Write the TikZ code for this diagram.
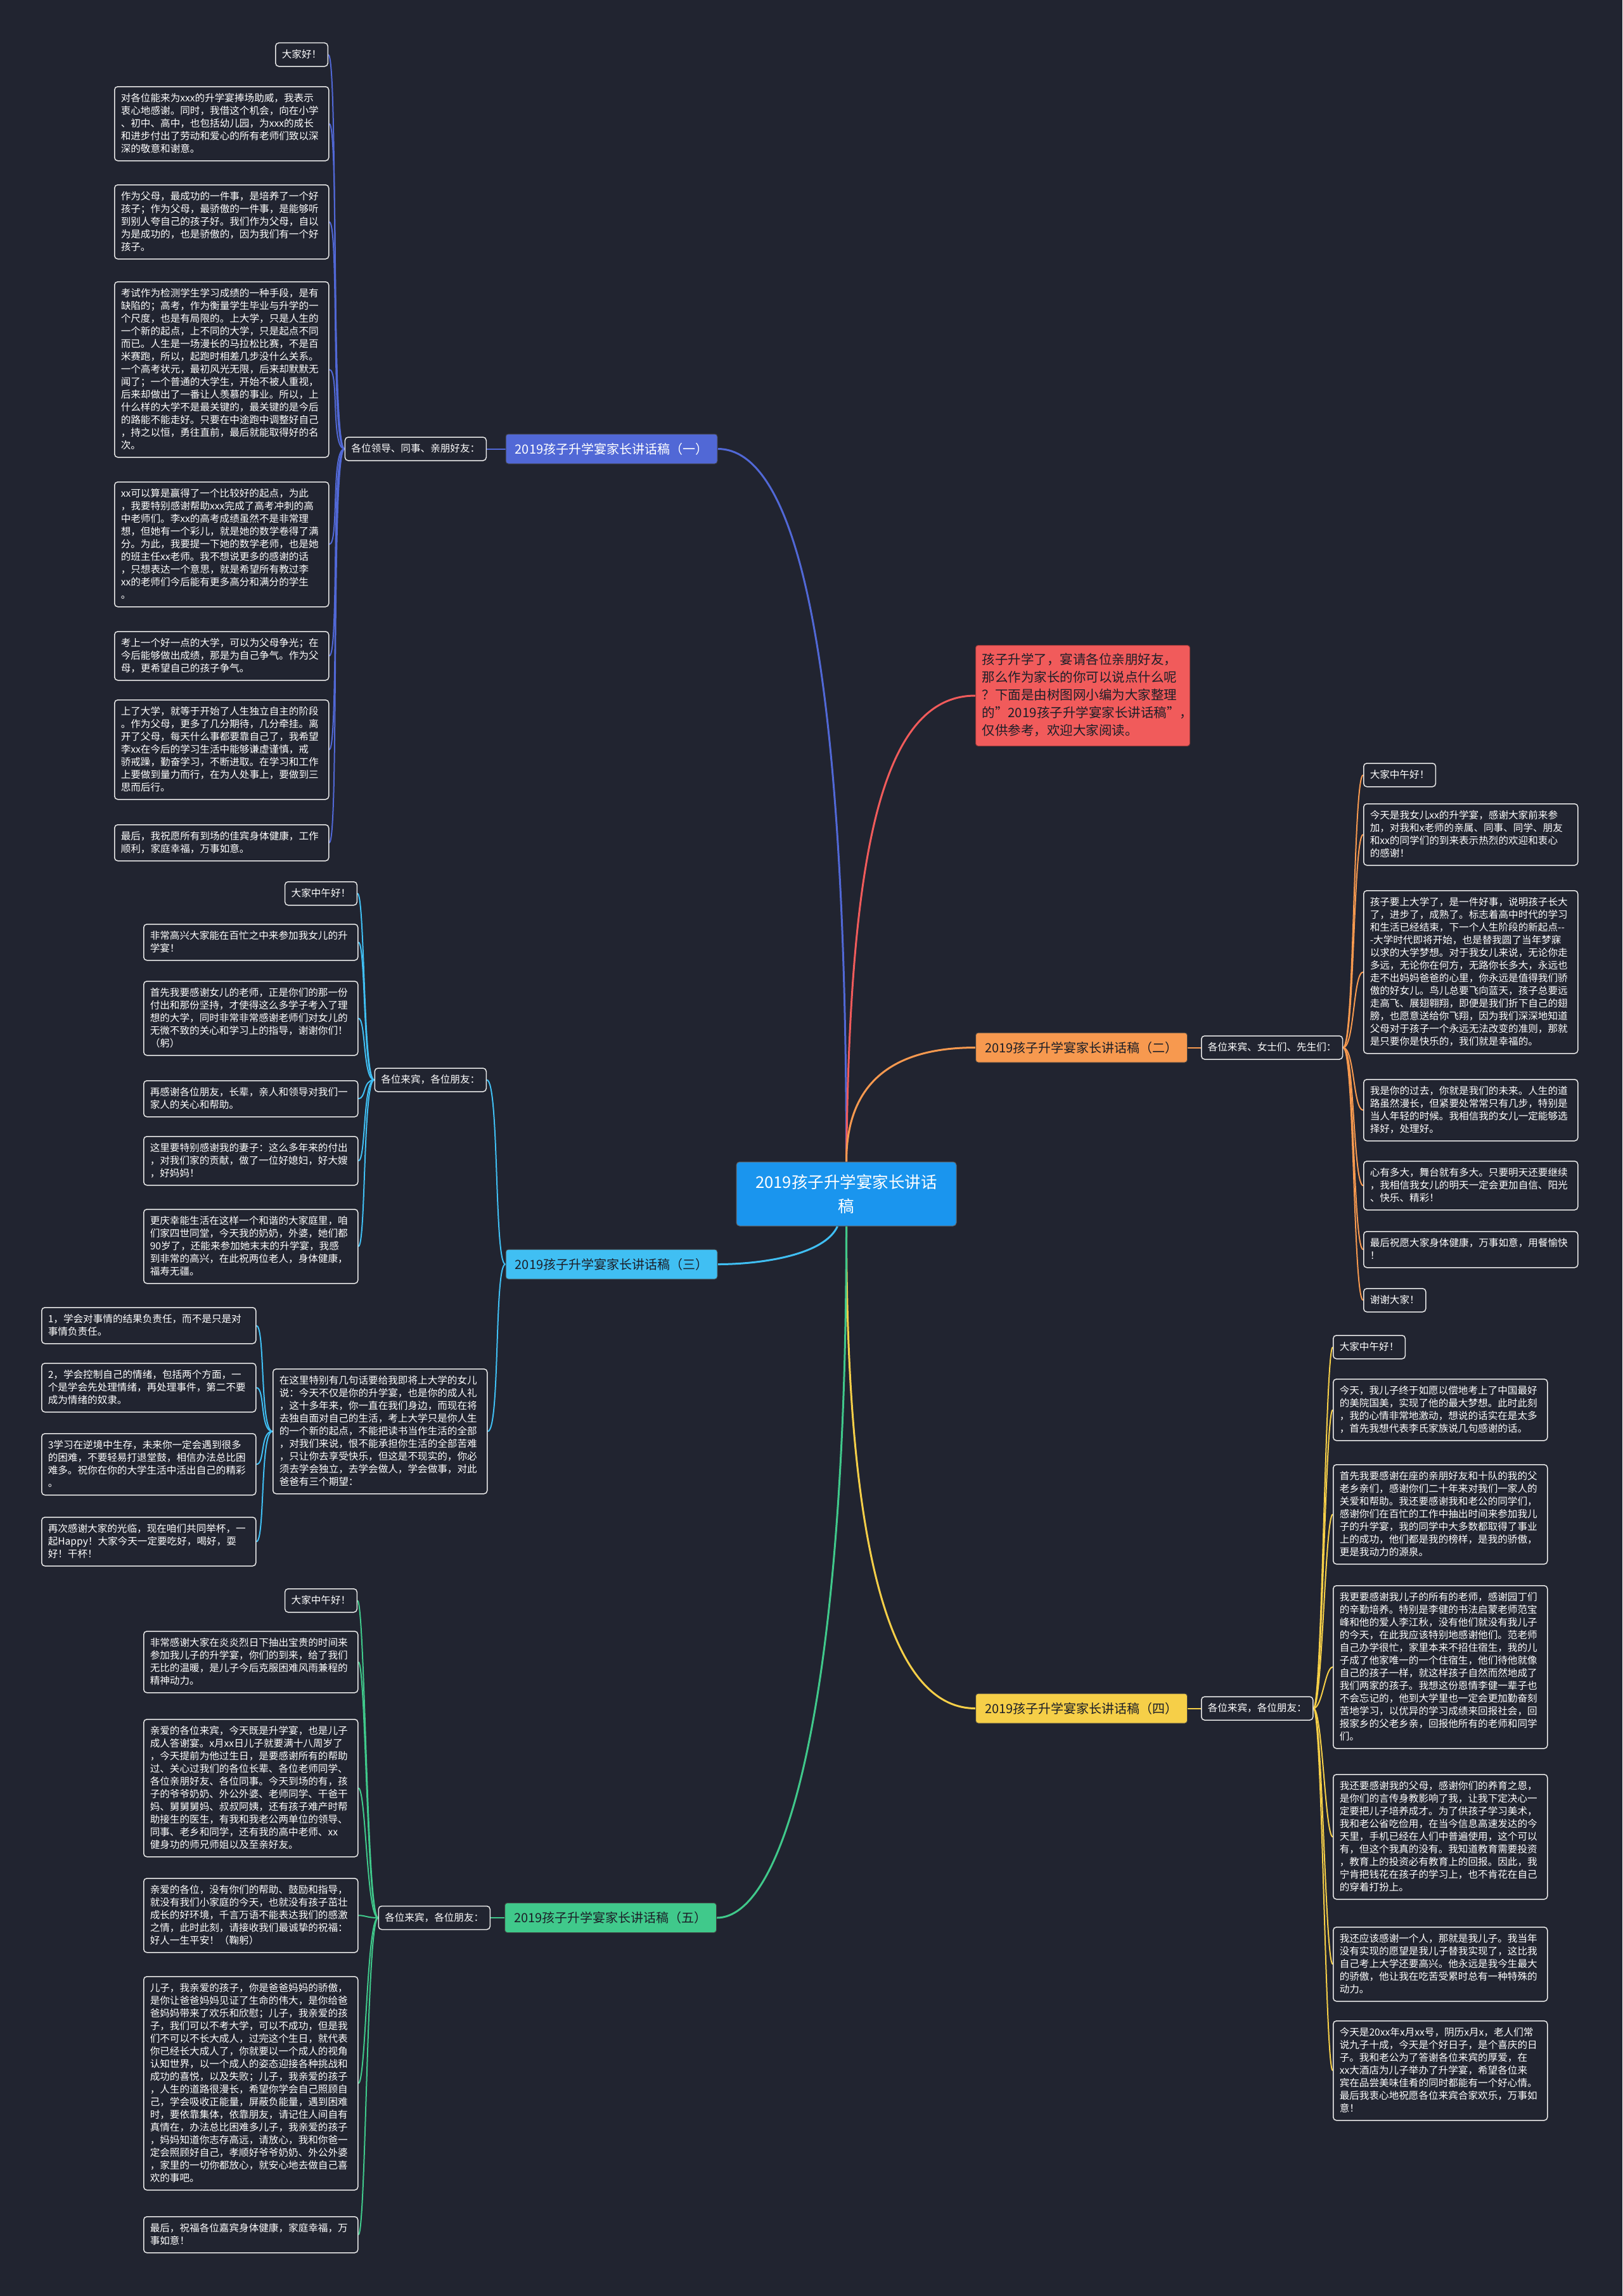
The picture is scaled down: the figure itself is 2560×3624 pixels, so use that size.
\documentclass[tikz,border=0pt]{standalone}
\usepackage{fontspec}
\usetikzlibrary{backgrounds}
\setmainfont{Noto Sans CJK SC}
\definecolor{bg}{HTML}{212430}
\definecolor{leafborder}{HTML}{E8E8E8}
\definecolor{cone}{HTML}{5168D6}
\definecolor{ctwo}{HTML}{F7994F}
\definecolor{cthree}{HTML}{40BFF3}
\definecolor{cfour}{HTML}{F6CF48}
\definecolor{cfive}{HTML}{40C98B}
\definecolor{cred}{HTML}{F15B5B}
\definecolor{ccenter}{HTML}{1A95EE}
\definecolor{dtext}{HTML}{1C1F28}
\newcommand\leaffont{\fontsize{15.6pt}{20pt}\selectfont}
\newcommand\brfont{\fontsize{20pt}{24pt}\selectfont}
\newcommand\redfont{\fontsize{20.5pt}{28pt}\selectfont}
\newcommand\cenfont{\fontsize{25.5pt}{38pt}\selectfont}
\tikzset{
  box/.style={draw=leafborder, line width=1.5pt, rounded corners=5pt, fill=bg, text=white,
    font=\leaffont, inner xsep=10pt, inner ysep=8.5pt,
    execute at begin node={\rule{0pt}{15pt}}, execute at end node={\rule[-5pt]{0pt}{5pt}}},
  leaf/.style={box, align=left, text width=318pt},
  small/.style={box},
  br/.style={draw=black!75, line width=1pt, rounded corners=4pt, minimum width=334pt, minimum height=47pt, inner sep=0pt, font=\brfont},
  mainline/.style={line width=3pt},
  subline/.style={line width=2pt},
}
\begin{document}
\begin{tikzpicture}[x=1pt,y=-1pt]
\begin{scope}[on background layer]
\fill[bg] (0,0) rectangle (2560,3624);
\end{scope}
\useasboundingbox (0,0) rectangle (2560,3624);

% center
\node[fill=ccenter, draw=black!60, line width=1pt, text=white, rounded corners=5pt, text width=315pt, align=center, font=\cenfont,
  minimum height=101pt, inner xsep=16pt, inner ysep=0pt] (cn) at (1335.5,1884.5) {2019孩子升学宴家长讲话\\稿};

% red intro
\node[fill=cred, draw=cred!60!black, line width=1pt, rounded corners=4pt, text=dtext, align=left, text width=318pt,
  font=\redfont, inner xsep=10pt, inner ysep=9.5pt, anchor=north west,
  execute at begin node={\rule{0pt}{20pt}}, execute at end node={\rule[-8pt]{0pt}{8pt}}] (rd) at (1539,1018)
  {孩子升学了，宴请各位亲朋好友，\\那么作为家长的你可以说点什么呢\\？下面是由树图网小编为大家整理\\的"2019孩子升学宴家长讲话稿"，\\仅供参考，欢迎大家阅读。};

% branch nodes
\node[br, fill=cone, text=white] (b1) at (965,708.5) {2019孩子升学宴家长讲话稿（一）};
\node[br, fill=ctwo, text=dtext] (b2) at (1706.5,1653.5) {2019孩子升学宴家长讲话稿（二）};
\node[br, fill=cthree, text=dtext] (b3) at (965,1995.5) {2019孩子升学宴家长讲话稿（三）};
\node[br, fill=cfour, text=dtext] (b4) at (1706.5,2696.5) {2019孩子升学宴家长讲话稿（四）};
\node[br, fill=cfive, text=dtext] (b5) at (963.5,3027) {2019孩子升学宴家长讲话稿（五）};

% labels
\node[small, anchor=east] (la) at (768,708.5) {各位领导、同事、亲朋好友：};
\node[small, anchor=west] (lf) at (1895,1653.5) {各位来宾、女士们、先生们：};
\node[small, anchor=east] (lc) at (768,1704.5) {各位来宾，各位朋友：};
\node[small, anchor=west] (lg) at (1895,2696.5) {各位来宾，各位朋友：};
\node[small, anchor=east] (le) at (774,3027) {各位来宾，各位朋友：};

% branch 1 leaves
\node[small, anchor=north east] (a0) at (518,67) {大家好！};
\node[leaf, anchor=north west] (a1) at (180,136) {对各位能来为xxx的升学宴捧场助威，我表示\\衷心地感谢。同时，我借这个机会，向在小学\\、初中、高中，也包括幼儿园，为xxx的成长\\和进步付出了劳动和爱心的所有老师们致以深\\深的敬意和谢意。};
\node[leaf, anchor=north west] (a2) at (180,291) {作为父母，最成功的一件事，是培养了一个好\\孩子；作为父母，最骄傲的一件事，是能够听\\到别人夸自己的孩子好。我们作为父母，自以\\为是成功的，也是骄傲的，因为我们有一个好\\孩子。};
\node[leaf, anchor=north west] (a3) at (180,444) {考试作为检测学生学习成绩的一种手段，是有\\缺陷的；高考，作为衡量学生毕业与升学的一\\个尺度，也是有局限的。上大学，只是人生的\\一个新的起点，上不同的大学，只是起点不同\\而已。人生是一场漫长的马拉松比赛，不是百\\米赛跑，所以，起跑时相差几步没什么关系。\\一个高考状元，最初风光无限，后来却默默无\\闻了；一个普通的大学生，开始不被人重视，\\后来却做出了一番让人羡慕的事业。所以，上\\什么样的大学不是最关键的，最关键的是今后\\的路能不能走好。只要在中途跑中调整好自己\\，持之以恒，勇往直前，最后就能取得好的名\\次。};
\node[leaf, anchor=north west] (a4) at (180,760) {xx可以算是赢得了一个比较好的起点，为此\\，我要特别感谢帮助xxx完成了高考冲刺的高\\中老师们。李xx的高考成绩虽然不是非常理\\想，但她有一个彩儿，就是她的数学卷得了满\\分。为此，我要提一下她的数学老师，也是她\\的班主任xx老师。我不想说更多的感谢的话\\，只想表达一个意思，就是希望所有教过李\\xx的老师们今后能有更多高分和满分的学生\\。};
\node[leaf, anchor=north west] (a5) at (180,996) {考上一个好一点的大学，可以为父母争光；在\\今后能够做出成绩，那是为自己争气。作为父\\母，更希望自己的孩子争气。};
\node[leaf, anchor=north west] (a6) at (180,1104) {上了大学，就等于开始了人生独立自主的阶段\\。作为父母，更多了几分期待，几分牵挂。离\\开了父母，每天什么事都要靠自己了，我希望\\李xx在今后的学习生活中能够谦虚谨慎，戒\\骄戒躁，勤奋学习，不断进取。在学习和工作\\上要做到量力而行，在为人处事上，要做到三\\思而后行。};
\node[leaf, anchor=north west] (a7) at (180,1301) {最后，我祝愿所有到场的佳宾身体健康，工作\\顺利，家庭幸福，万事如意。};

% branch 3 leaves
\node[small, anchor=north east] (c0) at (564,1391) {大家中午好！};
\node[leaf, anchor=north west] (c1) at (226,1458) {非常高兴大家能在百忙之中来参加我女儿的升\\学宴！};
\node[leaf, anchor=north west] (c2) at (226,1548) {首先我要感谢女儿的老师，正是你们的那一份\\付出和那份坚持，才使得这么多学子考入了理\\想的大学，同时非常非常感谢老师们对女儿的\\无微不致的关心和学习上的指导，谢谢你们！\\（躬）};
\node[leaf, anchor=north west] (c3) at (226,1705) {再感谢各位朋友，长辈，亲人和领导对我们一\\家人的关心和帮助。};
\node[leaf, anchor=north west] (c4) at (226,1793) {这里要特别感谢我的妻子：这么多年来的付出\\，对我们家的贡献，做了一位好媳妇，好大嫂\\，好妈妈！};
\node[leaf, anchor=north west] (c5) at (226,1908) {更庆幸能生活在这样一个和谐的大家庭里，咱\\们家四世同堂，今天我的奶奶，外婆，她们都\\90岁了，还能来参加她末末的升学宴，我感\\到非常的高兴，在此祝两位老人，身体健康，\\福寿无疆。};
\node[leaf, anchor=north west] (cb) at (430,2160) {在这里特别有几句话要给我即将上大学的女儿\\说：今天不仅是你的升学宴，也是你的成人礼\\，这十多年来，你一直在我们身边，而现在将\\去独自面对自己的生活，考上大学只是你人生\\的一个新的起点，不能把读书当作生活的全部\\，对我们来说，恨不能承担你生活的全部苦难\\，只让你去享受快乐，但这是不现实的，你必\\须去学会独立，去学会做人，学会做事，对此\\爸爸有三个期望：};
\node[leaf, anchor=north west] (d1) at (65,2063) {1，学会对事情的结果负责任，而不是只是对\\事情负责任。};
\node[leaf, anchor=north west] (d2) at (65,2151) {2，学会控制自己的情绪，包括两个方面，一\\个是学会先处理情绪，再处理事件，第二不要\\成为情绪的奴隶。};
\node[leaf, anchor=north west] (d3) at (65,2262) {3学习在逆境中生存，未来你一定会遇到很多\\的困难，不要轻易打退堂鼓，相信办法总比困\\难多。祝你在你的大学生活中活出自己的精彩\\。};
\node[leaf, anchor=north west] (d4) at (65,2394) {再次感谢大家的光临，现在咱们共同举杯，一\\起Happy！大家今天一定要吃好，喝好，耍\\好！干杯！};

% branch 5 leaves
\node[small, anchor=north east] (e0) at (564,2507) {大家中午好！};
\node[leaf, anchor=north west] (e1) at (226,2574) {非常感谢大家在炎炎烈日下抽出宝贵的时间来\\参加我儿子的升学宴，你们的到来，给了我们\\无比的温暖，是儿子今后克服困难风雨兼程的\\精神动力。};
\node[leaf, anchor=north west] (e2) at (226,2713) {亲爱的各位来宾，今天既是升学宴，也是儿子\\成人答谢宴。x月xx日儿子就要满十八周岁了\\，今天提前为他过生日，是要感谢所有的帮助\\过、关心过我们的各位长辈、各位老师同学、\\各位亲朋好友、各位同事。今天到场的有，孩\\子的爷爷奶奶、外公外婆、老师同学、干爸干\\妈、舅舅舅妈、叔叔阿姨，还有孩子难产时帮\\助接生的医生，有我和我老公两单位的领导、\\同事、老乡和同学，还有我的高中老师、xx\\健身功的师兄师姐以及至亲好友。};
\node[leaf, anchor=north west] (e3) at (226,2964) {亲爱的各位，没有你们的帮助、鼓励和指导，\\就没有我们小家庭的今天，也就没有孩子茁壮\\成长的好环境，千言万语不能表达我们的感激\\之情，此时此刻，请接收我们最诚挚的祝福：\\好人一生平安！（鞠躬）};
\node[leaf, anchor=north west] (e4) at (226,3119) {儿子，我亲爱的孩子，你是爸爸妈妈的骄傲，\\是你让爸爸妈妈见证了生命的伟大，是你给爸\\爸妈妈带来了欢乐和欣慰；儿子，我亲爱的孩\\子，我们可以不考大学，可以不成功，但是我\\们不可以不长大成人，过完这个生日，就代表\\你已经长大成人了，你就要以一个成人的视角\\认知世界，以一个成人的姿态迎接各种挑战和\\成功的喜悦，以及失败；儿子，我亲爱的孩子\\，人生的道路很漫长，希望你学会自己照顾自\\己，学会吸收正能量，屏蔽负能量，遇到困难\\时，要依靠集体，依靠朋友，请记住人间自有\\真情在，办法总比困难多儿子，我亲爱的孩子\\，妈妈知道你志存高远，请放心，我和你爸一\\定会照顾好自己，孝顺好爷爷奶奶、外公外婆\\，家里的一切你都放心，就安心地去做自己喜\\欢的事吧。};
\node[leaf, anchor=north west] (e5) at (226,3498) {最后，祝福各位嘉宾身体健康，家庭幸福，万\\事如意！};

% branch 2 leaves
\node[small, anchor=north west] (f0) at (2151,1204) {大家中午好！};
\node[leaf, anchor=north west] (f1) at (2151,1268) {今天是我女儿xx的升学宴，感谢大家前来参\\加，对我和x老师的亲属、同事、同学、朋友\\和xx的同学们的到来表示热烈的欢迎和衷心\\的感谢！};
\node[leaf, anchor=north west] (f2) at (2151,1405) {孩子要上大学了，是一件好事，说明孩子长大\\了，进步了，成熟了。标志着高中时代的学习\\和生活已经结束，下一个人生阶段的新起点-\kern0pt-\\-大学时代即将开始，也是替我圆了当年梦寐\\以求的大学梦想。对于我女儿来说，无论你走\\多远，无论你在何方，无路你长多大，永远也\\走不出妈妈爸爸的心里，你永远是值得我们骄\\傲的好女儿。鸟儿总要飞向蓝天，孩子总要远\\走高飞、展翅翱翔，即便是我们折下自己的翅\\膀，也愿意送给你飞翔，因为我们深深地知道\\父母对于孩子一个永远无法改变的准则，那就\\是只要你是快乐的，我们就是幸福的。};
\node[leaf, anchor=north west] (f3) at (2151,1703) {我是你的过去，你就是我们的未来。人生的道\\路虽然漫长，但紧要处常常只有几步，特别是\\当人年轻的时候。我相信我的女儿一定能够选\\择好，处理好。};
\node[leaf, anchor=north west] (f4) at (2151,1832) {心有多大，舞台就有多大。只要明天还要继续\\，我相信我女儿的明天一定会更加自信、阳光\\、快乐、精彩！};
\node[leaf, anchor=north west] (f5) at (2151,1943) {最后祝愿大家身体健康，万事如意，用餐愉快\\！};
\node[small, anchor=north west] (f6) at (2151,2033) {谢谢大家！};

% branch 4 leaves
\node[small, anchor=north west] (g0) at (2103,2107) {大家中午好！};
\node[leaf, anchor=north west] (g1) at (2103,2176) {今天，我儿子终于如愿以偿地考上了中国最好\\的美院国美，实现了他的最大梦想。此时此刻\\，我的心情非常地激动，想说的话实在是太多\\，首先我想代表李氏家族说几句感谢的话。};
\node[leaf, anchor=north west] (g2) at (2103,2311) {首先我要感谢在座的亲朋好友和十队的我的父\\老乡亲们，感谢你们二十年来对我们一家人的\\关爱和帮助。我还要感谢我和老公的同学们，\\感谢你们在百忙的工作中抽出时间来参加我儿\\子的升学宴，我的同学中大多数都取得了事业\\上的成功，他们都是我的榜样，是我的骄傲，\\更是我动力的源泉。};
\node[leaf, anchor=north west] (g3) at (2103,2502) {我更要感谢我儿子的所有的老师，感谢园丁们\\的辛勤培养。特别是李健的书法启蒙老师范宝\\峰和他的爱人李江秋，没有他们就没有我儿子\\的今天，在此我应该特别地感谢他们。范老师\\自己办学很忙，家里本来不招住宿生，我的儿\\子成了他家唯一的一个住宿生，他们待他就像\\自己的孩子一样，就这样孩子自然而然地成了\\我们两家的孩子。我想这份恩情李健一辈子也\\不会忘记的，他到大学里也一定会更加勤奋刻\\苦地学习，以优异的学习成绩来回报社会，回\\报家乡的父老乡亲，回报他所有的老师和同学\\们。};
\node[leaf, anchor=north west] (g4) at (2103,2800) {我还要感谢我的父母，感谢你们的养育之恩，\\是你们的言传身教影响了我，让我下定决心一\\定要把儿子培养成才。为了供孩子学习美术，\\我和老公省吃俭用，在当今信息高速发达的今\\天里，手机已经在人们中普遍使用，这个可以\\有，但这个我真的没有。我知道教育需要投资\\，教育上的投资必有教育上的回报。因此，我\\宁肯把钱花在孩子的学习上，也不肯花在自己\\的穿着打扮上。};
\node[leaf, anchor=north west] (g5) at (2103,3041) {我还应该感谢一个人，那就是我儿子。我当年\\没有实现的愿望是我儿子替我实现了，这比我\\自己考上大学还要高兴。他永远是我今生最大\\的骄傲，他让我在吃苦受累时总有一种特殊的\\动力。};
\node[leaf, anchor=north west] (g6) at (2103,3189) {今天是20xx年x月xx号，阴历x月x，老人们常\\说九子十成，今天是个好日子，是个喜庆的日\\子。我和老公为了答谢各位来宾的厚爱，在\\xx大酒店为儿子举办了升学宴，希望各位来\\宾在品尝美味佳肴的同时都能有一个好心情。\\最后我衷心地祝愿各位来宾合家欢乐，万事如\\意！};

\begin{scope}[on background layer]
% main connectors
\draw[cone, mainline] (cn.north) .. controls +(0,-834) and +(118,0) .. (b1.east);
\draw[cred, mainline] (cn.north) .. controls +(5,-484) and +(-149,0) .. (rd.west);
\draw[ctwo, mainline] (cn.north) .. controls +(0,-134) and +(-119,0) .. (b2.west);
\draw[cthree, mainline] ([xshift=-14pt]cn.south) .. controls +(-20,45) and +(70,0) .. (b3.east);
\draw[cfour, mainline] (cn.south) .. controls +(0,565) and +(-119,0) .. (b4.west);
\draw[cfive, mainline] (cn.south) .. controls +(0,765) and +(105,0) .. (b5.east);
% branch to labels
\draw[cone, subline] (b1.west) -- (la.east);
\draw[ctwo, subline] (b2.east) -- (lf.west);
\draw[cfour, subline] (b4.east) -- (lg.west);
\draw[cfive, subline] (b5.west) -- (le.east);
\draw[cthree, subline] (b3.west) .. controls +(-18,0) and +(20,0) .. (lc.east);
\draw[cthree, subline] (b3.west) .. controls +(-18,0) and +(20,0) .. (cb.east);
% labels to leaves
\foreach \n in {a0,a1,a2,a3,a4,a5,a6,a7}
  \draw[cone, subline] (la.west) .. controls +(-22,0) and +(16,0) .. (\n.east);
\foreach \n in {c0,c1,c2,c3,c4,c5}
  \draw[cthree, subline] (lc.west) .. controls +(-18,0) and +(12,0) .. (\n.east);
\foreach \n in {d1,d2,d3,d4}
  \draw[cthree, subline] (cb.west) .. controls +(-20,0) and +(14,0) .. (\n.east);
\foreach \n in {e0,e1,e2,e3,e4,e5}
  \draw[cfive, subline] (le.west) .. controls +(-18,0) and +(12,0) .. (\n.east);
\foreach \n in {f0,f1,f2,f3,f4,f5,f6}
  \draw[ctwo, subline] (lf.east) .. controls +(18,0) and +(-16,0) .. (\n.west);
\foreach \n in {g0,g1,g2,g3,g4,g5,g6}
  \draw[cfour, subline] (lg.east) .. controls +(14,0) and +(-12,0) .. (\n.west);
\end{scope}
\end{tikzpicture}
\end{document}
